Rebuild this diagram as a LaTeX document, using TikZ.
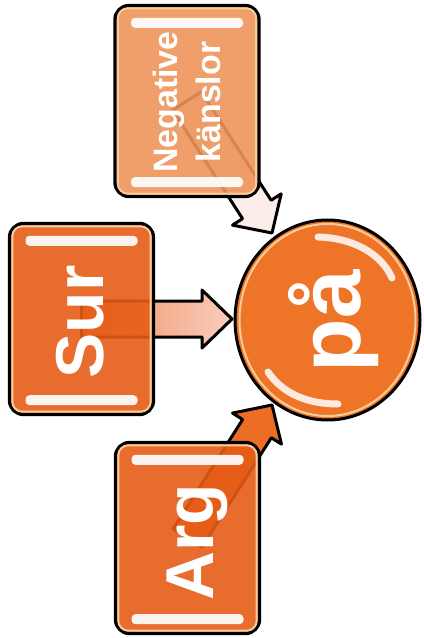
\documentclass[tikz,border=0pt]{standalone}
\usepackage{fontspec}
\setmainfont{Liberation Sans}
\usetikzlibrary{calc,shapes.geometric,backgrounds}
\definecolor{boxorange}{RGB}{230,92,22}
\definecolor{lightorange}{RGB}{238,148,90}
\definecolor{circorange}{RGB}{238,116,40}
\definecolor{cream}{RGB}{247,205,155}
\definecolor{arrowpale}{RGB}{251,238,232}
\definecolor{arroworange}{RGB}{236,110,36}
\definecolor{peachA}{RGB}{240,140,95}
\definecolor{peachB}{RGB}{248,206,188}
\newcommand\blockarr[6]{\draw[#1] ($(#2)!#5!90:(#3)$) -- ($(#4)!#5!90:(#3)$) -- ($(#4)!#6!90:(#3)$) -- (#3) -- ($(#4)!#6!-90:(#3)$) -- ($(#4)!#5!-90:(#3)$) -- ($(#2)!#5!-90:(#3)$) -- cycle;}
\newcommand\boxgloss[1]{%
  \draw[cream, line width=2bp, rounded corners=10bp] ($(#1.north west)+(4.5,4.5)$) rectangle ($(#1.south east)+(-4.5,-4.5)$);
  \fill[shine] ($(#1.north)+(-56,14)$) rectangle ($(#1.north)+(56,24)$);
  \fill[shine] ($(#1.south)+(-56,-21)$) rectangle ($(#1.south)+(56,-11)$);
}
\begin{document}
\begin{tikzpicture}[x=1bp,y=-1bp,
  box/.style={draw=black, line width=3.4bp, rounded corners=14bp, minimum width=144bp, minimum height=191bp, inner sep=0pt, fill opacity=0.9},
  shine/.style={fill=white, opacity=0.92, rounded corners=4bp},
  arrowline/.style={draw=black, line width=3bp, line join=round},
  txt/.style={text=white, inner sep=0pt, anchor=base, rotate=90},
  ball/.style={ellipse, draw=black, line width=3bp, fill=circorange, minimum width=185bp, minimum height=200bp, inner sep=0pt}]
\useasboundingbox (0,0) rectangle (423,638);

% boxes and circle
\node[box, fill=lightorange] (neg) at (187,101) {};
\node[box, fill=boxorange] (sur) at (81.5,319) {};
\node[box, fill=boxorange] (arg) at (187.5,538) {};
\node[ball] (pa) at (327.5,320) {};

\boxgloss{neg}
\boxgloss{sur}
\boxgloss{arg}

% circle gloss
\draw[cream, line width=2bp] (pa.center) ellipse [x radius=88, y radius=96];
\draw[white, opacity=0.85, line width=7bp, line cap=round] (318,237) .. controls (355,238) and (382,255) .. (392,278);
\draw[white, opacity=0.85, line width=7bp, line cap=round] (268,372) .. controls (283,394) and (308,404) .. (338,404);

% connectors
\coordinate (tipN) at (272,233);
\coordinate (tipS) at (232,319);
\coordinate (tipA) at (272,405);
\coordinate (hN) at ($(tipN)!28bp!(neg.center)$);
\coordinate (hS) at ($(tipS)!30bp!(sur.center)$);
\coordinate (hA) at ($(tipA)!28bp!(arg.center)$);
\begin{pgfonlayer}{background}
\blockarr{arrowline, fill=arrowpale}{neg.center}{tipN}{hN}{17bp}{29bp}
\blockarr{arrowline, left color=peachA, right color=peachB}{sur.center}{tipS}{hS}{18bp}{29bp}
\blockarr{arrowline, fill=arroworange}{arg.center}{tipA}{hA}{17bp}{29bp}
\end{pgfonlayer}

% texts
\node[txt, font=\fontsize{34}{34}\selectfont\bfseries] (t1) at (177,102) {Negative};
\node[txt, font=\fontsize{34}{34}\selectfont\bfseries] (t2) at (220,102) {känslor};
\node[txt, font=\fontsize{68}{68}\selectfont\bfseries] (t3) at (103,322) {Sur};
\node[txt, font=\fontsize{68}{68}\selectfont\bfseries] (t4) at (213,542) {Arg};
\node[txt, font=\fontsize{88}{88}\selectfont\bfseries] (t5) at (360,321) {på};
\end{tikzpicture}
\end{document}
